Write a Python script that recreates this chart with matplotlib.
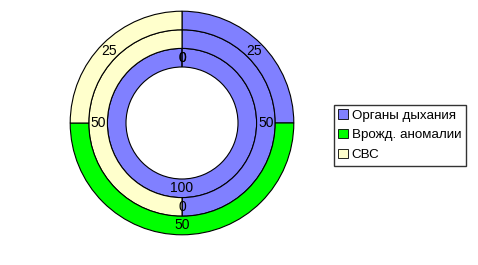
import matplotlib
matplotlib.use("Agg")
import matplotlib.pyplot as plt
from matplotlib.patches import Patch

plt.rcParams["font.family"] = ["Liberation Sans", "DejaVu Sans"]

categories = ["Органы дыхания", "Врожд. аномалии", "СВС"]
colors = ["#8080FF", "#00FF00", "#FFFFCC"]

# rings from innermost to outermost
inner_vals = [100, 0, 0]
middle_vals = [50, 0, 50]
outer_vals = [25, 50, 25]
rings = [inner_vals, middle_vals, outer_vals]

W, H = 478, 265
fig = plt.figure(figsize=(W / 100, H / 100), dpi=100)
ax = fig.add_axes([0, 0, 1, 1])

cx, cy = 182, H - 123
hole = 56
width = 18.6

for i, vals in enumerate(rings):
    r = hole + width * (i + 1)
    ax.pie(
        vals,
        colors=colors,
        radius=r,
        center=(cx, cy),
        startangle=90,
        counterclock=False,
        labels=[str(v) for v in vals],
        labeldistance=(r - width / 2) / r,
        textprops={"fontsize": 10, "ha": "center", "va": "center"},
        wedgeprops={"width": width, "edgecolor": "black", "linewidth": 0.8},
        frame=True,
    )

ax.set_xlim(0, W)
ax.set_ylim(0, H)
ax.set_aspect("equal")
ax.axis("off")

handles = [Patch(facecolor=c, edgecolor="black", linewidth=0.6) for c in colors]
leg = fig.legend(
    handles,
    categories,
    loc="center",
    bbox_to_anchor=(0.836, 0.49),
    fontsize=9.6,
    frameon=True,
    fancybox=False,
    handlelength=0.7,
    handleheight=0.7,
    handletextpad=0.3,
    labelspacing=0.55,
    borderpad=0.35,
)
leg.get_frame().set_edgecolor("black")
leg.get_frame().set_linewidth(1.0)

fig.savefig("out.png", dpi=100)
